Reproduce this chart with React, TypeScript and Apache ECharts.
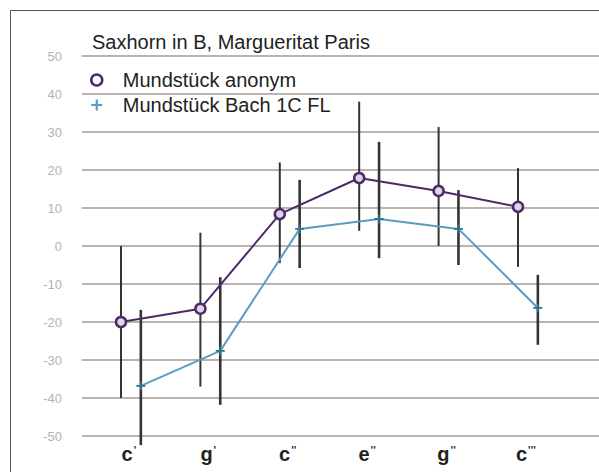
import React, { useEffect, useRef } from "react";
import * as echarts from "echarts";

const categories = ["c", "g", "c", "e", "g", "c"];
const categoryPrimes = ["'", "'", "''", "''", "''", "'''"];
const anonymValues = [-20, -16.5, 8.4, 17.9, 14.5, 10.3];
const anonymLow = [-40, -37, -4.5, 4, 0, -5.5];
const anonymHigh = [0, 3.5, 22, 38, 31.3, 20.5];
const bachValues = [-36.8, -27.6, 4.5, 7.1, 4.5, -16.3];
const bachLow = [-52.4, -41.8, -5.8, -3.2, -5, -26];
const bachHigh = [-16.8, -8.2, 17.4, 27.4, 14.7, -7.6];
const yTicks = [-50, -40, -30, -20, -10, 0, 10, 20, 30, 40, 50];

const PURPLE = "#4b2a67";
const BLUE = "#5a9dc0";
const BLUE_OFFSET = 0.25;
const LABEL_OFFSET = 0.1;
const FONT = "Liberation Sans, Arial, sans-serif";

const PLUS = "path://M4,0 H6 V4 H10 V6 H6 V10 H4 V6 H0 V4 H4 Z";

export default function App() {
  const ref = useRef<HTMLDivElement>(null);
  useEffect(() => {
    if (!ref.current) return;
    const chart = echarts.init(ref.current, undefined, { renderer: "svg" });
    const errRender = (stroke: string, width: number) => (params: any, api: any) => {
      const x = api.value(0);
      const p1 = api.coord([x, api.value(1)]);
      const p2 = api.coord([x, api.value(2)]);
      return {
        type: "line",
        shape: { x1: p1[0], y1: p1[1], x2: p2[0], y2: p2[1] },
        style: { stroke, lineWidth: width },
      };
    };
    chart.setOption({
      animation: false,
      backgroundColor: "#fff",
      title: {
        text: "Saxhorn in B, Margueritat Paris",
        left: 92,
        top: 32,
        padding: 0,
        textStyle: { fontSize: 20, fontWeight: "normal", color: "#222", fontFamily: FONT },
      },
      legend: {
        orient: "vertical",
        left: 90,
        top: 70,
        padding: 0,
        itemGap: 5,
        itemWidth: 36,
        itemHeight: 11,
        textStyle: { fontSize: 20, color: "#222", fontFamily: FONT, padding: [0, 0, 0, 3] },
        data: [
          { name: "Mundstück anonym", icon: "circle", itemStyle: { color: "#fff", borderColor: PURPLE, borderWidth: 2.5 } },
          { name: "Mundstück Bach 1C FL", icon: PLUS, itemStyle: { color: BLUE, borderWidth: 0 } },
        ],
      },
      graphic: [
        {
          type: "rect",
          shape: { x: 10.5, y: 10.5, width: 620, height: 500 },
          style: { fill: "none", stroke: "#555", lineWidth: 1 },
          silent: true,
        },
      ],
      grid: { left: 82, right: 0, top: 56, height: 380 },
      xAxis: {
        type: "value",
        min: -0.491,
        max: 6.02,
        axisLine: { show: false },
        axisTick: { show: false },
        splitLine: { show: false },
        axisLabel: {
          customValues: categories.map((_, i) => i + LABEL_OFFSET),
          formatter: (v: number) => {
            const i = Math.round(v - LABEL_OFFSET);
            return "{b|" + (categories[i] ?? "") + "}{s|" + (categoryPrimes[i] ?? "") + "}";
          },
          margin: 8,
          rich: {
            b: { fontSize: 20, fontWeight: "bold", color: "#222", fontFamily: FONT },
            s: { fontSize: 11, fontWeight: "bold", color: "#333", fontFamily: FONT, verticalAlign: "top", padding: [0, 0, 0, 1] },
          },
        },
      },
      yAxis: {
        type: "value",
        min: yTicks[0],
        max: yTicks[yTicks.length - 1],
        interval: 10,
        axisLine: { show: false },
        axisTick: { show: false },
        splitLine: { lineStyle: { color: "#bab3ae", width: 2 } },
        axisLabel: { color: "#b3b3b3", fontSize: 13, margin: 20, fontFamily: FONT },
      },
      series: [
        {
          type: "custom",
          name: "err-anonym",
          z: 1,
          renderItem: errRender("#333", 2),
          encode: { x: 0, y: [1, 2] },
          data: categories.map((_, i) => [i, anonymLow[i], anonymHigh[i]]),
          silent: true,
        },
        {
          type: "custom",
          name: "err-bach",
          z: 1,
          renderItem: errRender("#333", 2.6),
          encode: { x: 0, y: [1, 2] },
          data: categories.map((_, i) => [i + BLUE_OFFSET, bachLow[i], bachHigh[i]]),
          silent: true,
        },
        {
          type: "line",
          name: "Mundstück anonym",
          z: 3,
          data: anonymValues.map((v, i) => [i, v]),
          lineStyle: { color: PURPLE, width: 2 },
          symbol: "circle",
          symbolSize: 10,
          itemStyle: { color: "#ddd6e6", borderColor: PURPLE, borderWidth: 2.5 },
        },
        {
          type: "line",
          name: "Mundstück Bach 1C FL",
          z: 3,
          data: bachValues.map((v, i) => [i + BLUE_OFFSET, v]),
          lineStyle: { color: BLUE, width: 2 },
          symbol: PLUS,
          symbolSize: 9,
          itemStyle: { color: "#2f6f8f", borderWidth: 0 },
        },
      ],
    });
    return () => chart.dispose();
  }, []);
  return <div ref={ref} style={{ position: "fixed", left: 0, top: 0, width: 599, height: 472 }} />;
}
